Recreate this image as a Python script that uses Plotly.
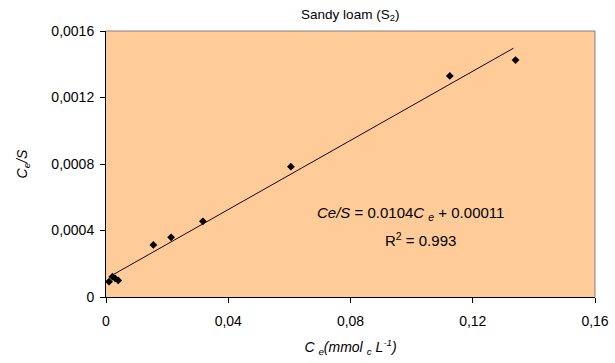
import plotly.graph_objects as go

ce = [0.0010, 0.0021, 0.0030, 0.0040, 0.0155, 0.0213, 0.0317, 0.0605, 0.1125, 0.1340]
ce_s = [0.000092, 0.000122, 0.000112, 0.000100, 0.000313, 0.000359, 0.000455, 0.000784, 0.00133, 0.001425]
slope = 0.0104
intercept = 0.00011
x_ticks = [0, 0.04, 0.08, 0.12, 0.16]
x_ticktext = ["0", "0,04", "0,08", "0,12", "0,16"]
y_ticks = [0, 0.0004, 0.0008, 0.0012, 0.0016]
y_ticktext = ["0", "0,0004", "0,0008", "0,0012", "0,0016"]

line_x = [min(ce), max(ce) - 0.0007]
line_y = [slope * v + intercept for v in line_x]

fig = go.Figure()
fig.add_trace(go.Scatter(x=line_x, y=line_y, mode="lines",
                         line=dict(color="#1a0000", width=1), showlegend=False))
fig.add_trace(go.Scatter(x=ce, y=ce_s, mode="markers",
                         marker=dict(symbol="diamond", color="black", size=6),
                         showlegend=False))

font = "Arial, Liberation Sans, sans-serif"
fig.update_layout(
    width=615, height=363,
    margin=dict(l=106, r=20, t=31, b=66),
    paper_bgcolor="white", plot_bgcolor="#FFCC99",
    font=dict(family=font, size=14, color="black"),
    title=dict(text="Sandy loam (S<sub>2</sub>)", x=0.5695, xanchor="center",
               y=0.962, yanchor="middle", font=dict(size=13.5)),
    xaxis=dict(range=[0, 0.16], tickvals=x_ticks, ticktext=x_ticktext,
               showgrid=False, zeroline=False, showline=True, linecolor="black",
               ticks="outside", ticklen=5, tickcolor="black", mirror=False,
               automargin=False, ticklabelstandoff=6,
               title=dict(text="<i>C <sub>e</sub>(mmol <sub>c</sub> L<sup>-1</sup>)</i>",
                          standoff=14, font=dict(size=14))),
    yaxis=dict(range=[0, 0.0016], tickvals=y_ticks, ticktext=y_ticktext,
               showgrid=False, zeroline=False, showline=True, linecolor="black",
               ticks="outside", ticklen=5, tickcolor="black", automargin=False,
               ticklabelstandoff=3,
               title=dict(text="<i>C<sub>e</sub>/S</i>", standoff=20, font=dict(size=14))),
    shapes=[
        dict(type="line", xref="paper", yref="paper", x0=0, x1=1, y0=1, y1=1,
             line=dict(color="#808080", width=1)),
        dict(type="line", xref="paper", yref="paper", x0=1, x1=1, y0=0, y1=1,
             line=dict(color="#808080", width=1)),
    ],
    annotations=[
        dict(x=0.0685, y=0.000505, xref="x", yref="y", xanchor="left", yanchor="middle",
             showarrow=False, font=dict(size=15),
             text="<i>Ce/S</i> = 0.0104<i>C <sub>e</sub></i> + 0.00011"),
        dict(x=0.1028, y=0.000343, xref="x", yref="y", xanchor="center", yanchor="middle",
             showarrow=False, font=dict(size=15),
             text="R<sup>2</sup> = 0.993"),
    ],
)
fig.write_html("out.html", config={"displayModeBar": False},
               post_script="document.body.style.margin='0';document.body.style.overflow='hidden';")
